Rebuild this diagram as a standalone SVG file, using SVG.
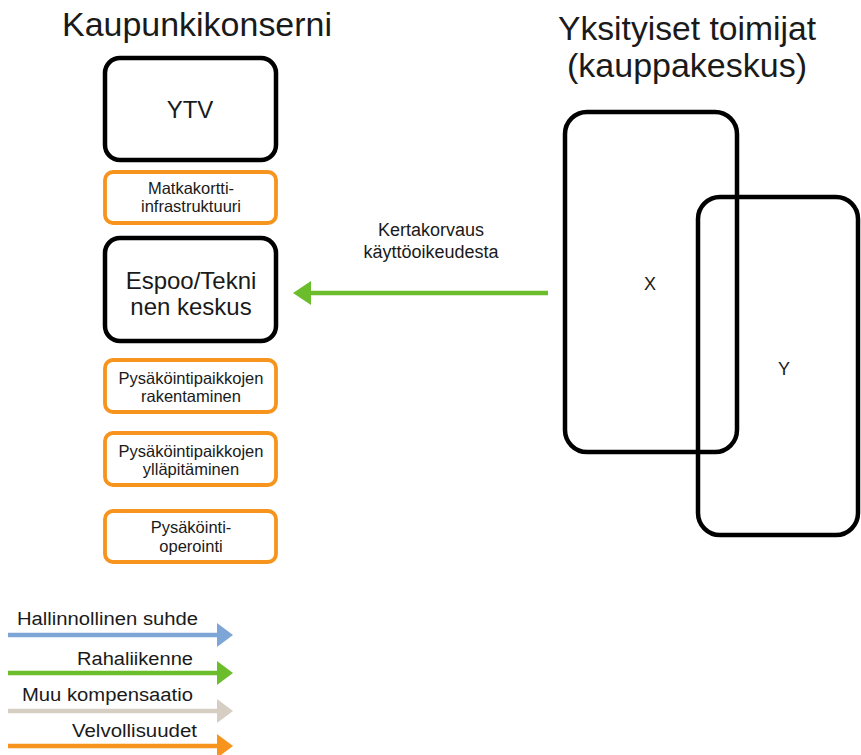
<svg xmlns="http://www.w3.org/2000/svg" width="861" height="755" viewBox="0 0 861 755">
  <defs>
    <style>
      text { font-family: "Liberation Sans", Arial, sans-serif; fill: #1a1a1a; }
      .title { font-size: 33px; }
      .big { font-size: 24px; text-anchor: middle; }
      .small { font-size: 16.5px; text-anchor: middle; }
      .lab { font-size: 18px; text-anchor: middle; }
      .leg { font-size: 18px; }
      .org { fill: #ffffff; stroke: #000000; stroke-width: 4.5; }
      .duty { fill: #ffffff; stroke: #F7941D; stroke-width: 3.8; }
      .party { fill: none; stroke: #000000; stroke-width: 4.5; }
    </style>
  </defs>

  <rect width="861" height="755" fill="#ffffff"/>

  <!-- Group headings -->
  <text class="title" x="62" y="36" textLength="270" lengthAdjust="spacingAndGlyphs">Kaupunkikonserni</text>
  <text class="title" x="558" y="40" textLength="258" lengthAdjust="spacingAndGlyphs">Yksityiset toimijat</text>
  <text class="title" x="567" y="77" textLength="240" lengthAdjust="spacingAndGlyphs">(kauppakeskus)</text>

  <!-- City group -->
  <g id="ytv">
    <rect class="org" x="105" y="58" width="171" height="102" rx="15"/>
    <text class="big" x="190" y="118">YTV</text>
  </g>
  <g id="matkakortti">
    <rect class="duty" x="105" y="172" width="171" height="51" rx="8"/>
    <text class="small" x="191" y="194">Matkakortti-</text>
    <text class="small" x="191" y="212">infrastruktuuri</text>
  </g>
  <g id="espoo">
    <rect class="org" x="105" y="238" width="171" height="103" rx="15"/>
    <text class="big" x="191" y="289">Espoo/Tekni</text>
    <text class="big" x="191" y="315">nen keskus</text>
  </g>
  <g id="rakentaminen">
    <rect class="duty" x="105" y="360" width="171" height="52" rx="8"/>
    <text class="small" x="191" y="384">Pysäköintipaikkojen</text>
    <text class="small" x="191" y="402">rakentaminen</text>
  </g>
  <g id="yllapitaminen">
    <rect class="duty" x="105" y="433" width="171" height="52" rx="8"/>
    <text class="small" x="191" y="457">Pysäköintipaikkojen</text>
    <text class="small" x="191" y="475">ylläpitäminen</text>
  </g>
  <g id="operointi">
    <rect class="duty" x="105" y="511" width="171" height="51" rx="8"/>
    <text class="small" x="191" y="533">Pysäköinti-</text>
    <text class="small" x="191" y="552">operointi</text>
  </g>

  <!-- Private actors -->
  <g id="x">
    <rect class="party" x="565" y="112" width="172" height="340" rx="22"/>
    <text class="lab" x="650" y="290">X</text>
  </g>
  <g id="y">
    <rect class="party" x="698" y="197" width="160" height="338" rx="22"/>
    <text class="lab" x="784" y="375">Y</text>
  </g>

  <!-- Connectors -->
  <g id="connectors">
    <line x1="548" y1="293" x2="305" y2="293" stroke="#6CBD2C" stroke-width="4.5"/>
    <polygon points="293,293 311,281 311,305" fill="#6CBD2C"/>
    <text class="lab" x="431" y="236">Kertakorvaus</text>
    <text class="lab" x="431" y="258">käyttöoikeudesta</text>
  </g>

  <!-- Legend -->
  <g id="legend">
    <text class="leg" x="17" y="625" textLength="181" lengthAdjust="spacingAndGlyphs">Hallinnollinen suhde</text>
    <line x1="8" y1="635" x2="220" y2="635" stroke="#7DA6D6" stroke-width="4.5"/>
    <polygon points="233,635 217,623 217,647" fill="#7DA6D6"/>

    <text class="leg" x="77" y="665" textLength="116" lengthAdjust="spacingAndGlyphs">Rahaliikenne</text>
    <line x1="8" y1="673" x2="220" y2="673" stroke="#6CBD2C" stroke-width="4.5"/>
    <polygon points="233,673 217,661 217,685" fill="#6CBD2C"/>

    <text class="leg" x="22" y="701" textLength="171" lengthAdjust="spacingAndGlyphs">Muu kompensaatio</text>
    <line x1="8" y1="711" x2="220" y2="711" stroke="#D6CEC3" stroke-width="4.5"/>
    <polygon points="233,711 217,699 217,723" fill="#D6CEC3"/>

    <text class="leg" x="72" y="737" textLength="125" lengthAdjust="spacingAndGlyphs">Velvollisuudet</text>
    <line x1="8" y1="746" x2="220" y2="746" stroke="#F7941D" stroke-width="4.5"/>
    <polygon points="233,746 217,734 217,758" fill="#F7941D"/>
  </g>
</svg>
